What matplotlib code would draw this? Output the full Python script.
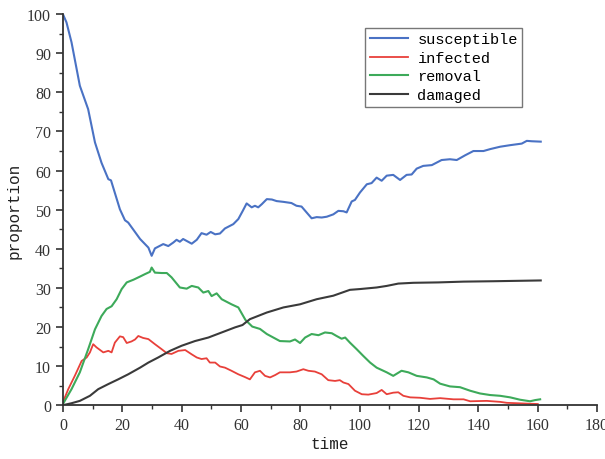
import matplotlib
matplotlib.use("Agg")
import matplotlib.pyplot as plt
from matplotlib.ticker import MultipleLocator

# values
t_sus = [0, 1.2, 2.9, 5.7, 8.5, 10.8, 13, 15.3, 16.2, 19.2, 20.9, 22, 26, 28.8, 29.9,
         31, 33.8, 35.5, 37.2, 38.3, 39.4, 40.5, 43.4, 45.1, 46.7, 48.4, 49.8, 51.3,
         52.9, 54.6, 57.4, 59.1, 60.6, 61.9, 63.6, 64.7, 65.8, 67, 68.7, 70.4, 72,
         74.3, 77, 78.7, 80.4, 82.1, 83.8, 85.5, 87.2, 88.9, 91.1, 92.8, 94.5, 95.6,
         97.3, 98.4, 100.1, 102.4, 104, 105.7, 107.4, 109.1, 111.3, 113.6, 115.8,
         117.5, 119.2, 121.4, 124.3, 127.6, 130.4, 132.7, 135.5, 138.3, 141.7, 144,
         147.3, 150.7, 154.6, 156.3, 158, 161]
susceptible = [100, 97.9, 92.8, 81.7, 75.7, 67.2, 62, 57.8, 57.5, 50.1, 47.3, 46.7,
               42.5, 40.3, 38.2, 40.1, 41.2, 40.7, 41.6, 42.3, 41.8, 42.5, 41.3, 42.3,
               44, 43.6, 44.3, 43.7, 43.9, 45.2, 46.3, 47.6, 49.7, 51.6, 50.6, 51, 50.6,
               51.4, 52.7, 52.6, 52.2, 52, 51.7, 51, 50.8, 49.3, 47.8, 48.1, 48, 48.2,
               48.8, 49.7, 49.6, 49.3, 52.1, 52.5, 54.4, 56.5, 56.8, 58.2, 57.4, 58.7,
               58.9, 57.6, 58.9, 59, 60.5, 61.2, 61.4, 62.7, 62.9, 62.7, 63.9, 65, 65,
               65.5, 66.1, 66.5, 66.9, 67.6, 67.5, 67.4]

t_inf = [0, 1.8, 4, 6.3, 8, 9.1, 10.2, 11.3, 13.6, 15.3, 16.4, 17.5, 19.2, 20.3, 21.5,
         23.1, 24.3, 25.4, 27, 28.8, 31, 33.3, 35, 36.6, 38.9, 41.2, 43.4, 45.1, 46.7,
         48.4, 49.5, 51.3, 52.9, 54.6, 56.8, 59.1, 61.3, 63, 64.7, 66.4, 68.1, 69.8,
         71.5, 73.1, 76.5, 78.7, 81, 82.7, 84.9, 87.2, 89.4, 91.7, 93.3, 94.5, 96.2,
         98.4, 100.7, 102.9, 105.7, 107.4, 109.1, 111.3, 113, 114.7, 117, 120.3, 123.7,
         127.1, 131.6, 135, 137.2, 142.8, 147.3, 149.6, 153, 156.3, 160]
infected = [0.8, 4.1, 7.5, 11.3, 12.2, 13.5, 15.6, 14.8, 13.5, 13.9, 13.5, 16, 17.6,
            17.4, 15.9, 16.3, 16.8, 17.7, 17.2, 16.9, 15.6, 14.3, 13.3, 13.1, 13.9,
            14.1, 13, 12.2, 11.8, 12, 10.9, 10.9, 9.9, 9.6, 8.8, 7.9, 7.2, 6.6, 8.4,
            8.8, 7.5, 7.1, 7.7, 8.4, 8.4, 8.6, 9.2, 8.8, 8.6, 7.9, 6.4, 6.2, 6.4, 5.8,
            5.4, 3.7, 2.8, 2.7, 3.1, 3.9, 2.8, 3.2, 3.3, 2.4, 2, 1.9, 1.6, 1.8, 1.5, 1.5,
            1, 1.1, 0.85, 0.6, 0.5, 0.4, 0.3]

t_rem = [0, 2.9, 5.7, 8.5, 10.8, 13, 14.7, 16.4, 18.1, 19.8, 21.5, 23.8, 26, 27.6,
         29.3, 29.9, 31, 33.3, 35, 36.6, 39.4, 41.7, 43.4, 45.6, 47.3, 49, 50.1, 51.8,
         53.5, 56.8, 59.1, 61.5, 63.8, 66.4, 68.7, 70.9, 73.1, 76.5, 78.2, 79.9, 81.6,
         83.8, 86.1, 88.3, 90.6, 92.2, 93.9, 95.1, 96.7, 99, 101.2, 103.5, 105.7, 109.1,
         111.3, 114.1, 116.4, 119.2, 122.6, 124.9, 127.1, 130.4, 133.8, 137.2, 140.5,
         143.9, 147.3, 150.7, 154, 157.4, 159.1, 160.8]
removal = [0.3, 4.1, 8.4, 14.3, 19.4, 22.8, 24.6, 25.3, 27.1, 29.7, 31.4, 32.1, 32.9,
           33.5, 34.1, 35.2, 33.9, 33.8, 33.8, 32.7, 30.1, 29.8, 30.5, 30.1, 28.8, 29.2,
           27.9, 28.6, 27.1, 25.8, 25, 21.8, 20.1, 19.5, 18.2, 17.3, 16.4, 16.3, 16.8,
           15.9, 17.3, 18.2, 17.9, 18.6, 18.4, 17.7, 17, 17.3, 16, 14.3, 12.6, 10.9, 9.6,
           8.4, 7.5, 8.8, 8.4, 7.5, 7.1, 6.6, 5.5, 4.8, 4.6, 3.7, 3, 2.6, 2.4, 2, 1.4,
           1, 1.3, 1.5]

t_dam = [0, 2.9, 5.7, 9.1, 11.9, 15.3, 18.6, 22, 26, 28.8, 32.1, 36.1, 40, 44.5, 49,
         53.5, 58, 60.5, 63, 68.7, 74.3, 79.9, 85.5, 91.1, 96.7, 100.1, 105.7, 109.1,
         113, 118.1, 126.5, 135, 145, 153, 161]
damaged = [0, 0.5, 1.1, 2.4, 4.1, 5.4, 6.6, 7.9, 9.6, 10.9, 12.2, 13.9, 15.2, 16.4,
           17.3, 18.6, 19.9, 20.5, 22, 23.7, 25, 25.8, 27.1, 28, 29.5, 29.7, 30.1, 30.5,
           31.1, 31.3, 31.4, 31.6, 31.7, 31.8, 31.9]

serif = ["Liberation Serif", "DejaVu Serif"]
mono = ["Liberation Mono", "DejaVu Sans Mono"]

fig = plt.figure(figsize=(6.05, 4.6), dpi=100)
ax = fig.add_axes([0.104, 0.117, 0.883, 0.85])

ax.plot(t_sus, susceptible, color="#4a72c4", lw=1.5, label="susceptible")
ax.plot(t_inf, infected, color="#e8403a", lw=1.3, label="infected")
ax.plot(t_rem, removal, color="#3daa5a", lw=1.5, label="removal")
ax.plot(t_dam, damaged, color="#3a3a3a", lw=1.5, label="damaged")

ax.set_xlim(0, 180)
ax.set_ylim(0, 100)
ax.xaxis.set_major_locator(MultipleLocator(20))
ax.xaxis.set_minor_locator(MultipleLocator(10))
ax.yaxis.set_major_locator(MultipleLocator(10))
ax.yaxis.set_minor_locator(MultipleLocator(5))
for s in ("top", "right"):
    ax.spines[s].set_visible(False)
for s in ("left", "bottom"):
    ax.spines[s].set_linewidth(1.3)
    ax.spines[s].set_color("#333333")
ax.tick_params(which="major", direction="out", length=5, width=1.2, color="#333333",
               labelsize=11.5, labelcolor="#333333")
ax.tick_params(which="minor", direction="out", length=3, width=1.0, color="#333333")
for lab in ax.get_xticklabels() + ax.get_yticklabels():
    lab.set_family(serif)
ax.set_xlabel("time", family=mono, fontsize=11.5, color="#222222", labelpad=2)
ax.set_ylabel("proportion", family=mono, fontsize=11.5, color="#222222", labelpad=4)

leg = ax.legend(loc="upper left", bbox_to_anchor=(0.552, 0.985), prop={"family": mono, "size": 11},
                handlelength=2.5, labelspacing=0.3, borderpad=0.3, handletextpad=0.6,
                fancybox=False, framealpha=1, edgecolor="#777777")
leg.get_frame().set_linewidth(1.0)

fig.savefig("out.png", dpi=100)
